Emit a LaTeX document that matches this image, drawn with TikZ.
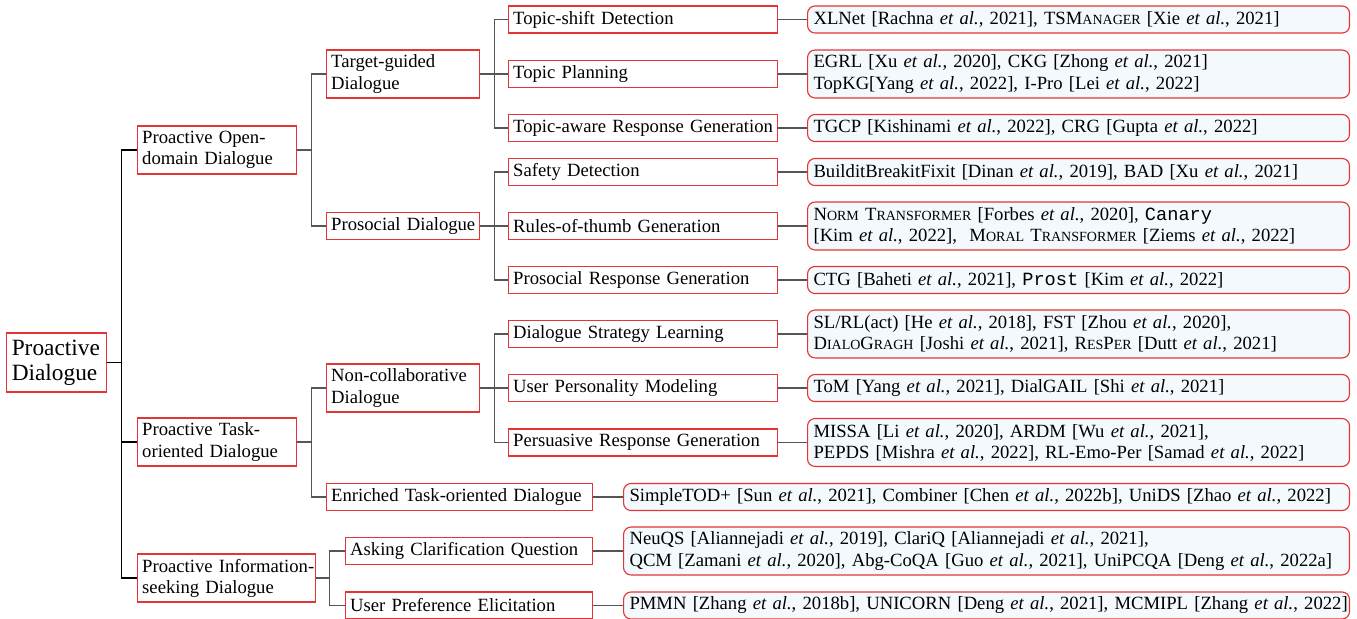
\documentclass[tikz,border=0pt]{standalone}
\usepackage{fontspec}
\setmainfont{Liberation Serif}
\setmonofont{Liberation Mono}

\definecolor{boxrot}{RGB}{228,52,52}
\definecolor{blattblau}{RGB}{243,249,253}
\definecolor{kantengrau}{RGB}{85,85,85}

\newcommand{\etal}{\textit{et al.}}
\newcommand{\kap}[1]{{\fontsize{7.5pt}{9pt}\selectfont\MakeUppercase{#1}}}

\tikzset{
	kat/.style={draw=boxrot, line width=0.6pt, anchor=west, align=left,
		inner xsep=2.5pt, inner ysep=1pt, minimum height=14.5pt,
		font=\fontsize{10}{11.3}\selectfont, text width=#1,
		execute at begin node={\rightskip=0pt plus 1fil minus 40pt\relax}},
	zwei/.style={minimum height=25.7pt},
	blatt/.style={kat=#1, fill=blattblau, rounded corners=4pt, inner xsep=3.2pt},
	kante/.style={draw=kantengrau, line width=0.6pt},
}

\begin{document}
\begin{tikzpicture}[x=0.536pt,y=-0.536pt]
		\useasboundingbox (0,0) rectangle (1357,618);
		
		% Wurzel
		\node[kat=48pt, inner xsep=2.8pt, minimum height=31.6pt,
			font=\fontsize{12.5}{13.4}\selectfont] (wurzel) at (6,362.5) {Proactive\\Dialogue};
		
		% Ebene 1
		\node[kat=80.2pt, zwei] (offen) at (137,150) {Proactive Open-\\domain Dialogue};
		\node[kat=80.2pt, zwei] (aufgabe) at (137,442) {Proactive Task-\\oriented Dialogue};
		\node[kat=90.4pt, zwei] (info) at (137,578) {Proactive Information-\\seeking Dialogue};
		
		% Ebene 2
		\node[kat=77pt, zwei] (ziel) at (326,74) {Target-guided\\Dialogue};
		\node[kat=77pt] (prosozial) at (326,226) {Prosocial Dialogue};
		\node[kat=77pt, zwei] (nichtkoop) at (326,388) {Non-collaborative\\Dialogue};
		\node[kat=137.6pt] (angereichert) at (326,497) {Enriched Task-oriented Dialogue};
		\node[kat=127.4pt] (rueckfrage) at (345,551) {Asking Clarification Question};
		\node[kat=127.4pt] (praeferenz) at (345,605.5) {User Preference Elicitation};
		
		% Ebene 3
		\node[kat=139.2pt] (wechsel) at (508,19.5) {Topic-shift Detection};
		\node[kat=139.2pt] (planung) at (508,74) {Topic Planning};
		\node[kat=139.2pt] (themenantw) at (508,128) {Topic-aware Response Generation};
		\node[kat=139.2pt] (sicherheit) at (508,172) {Safety Detection};
		\node[kat=139.2pt] (regeln) at (508,226) {Rules-of-thumb Generation};
		\node[kat=139.2pt] (prosantw) at (508,280) {Prosocial Response Generation};
		\node[kat=139.2pt] (strategie) at (508,334) {Dialogue Strategy Learning};
		\node[kat=139.2pt] (persoenlich) at (508,388) {User Personality Modeling};
		\node[kat=139.2pt] (ueberzeug) at (508,442.5) {Persuasive Response Generation};
		
		% Blaetter (Arbeiten)
		\node[blatt=284.1pt] (b-wechsel) at (807,19.5)
			{XLNet [Rachna \etal, 2021], TSM\kap{anager} [Xie \etal, 2021]};
		\node[blatt=284.1pt, zwei] (b-planung) at (807,74)
			{EGRL [Xu \etal, 2020], CKG [Zhong \etal, 2021]\\TopKG[Yang \etal, 2022], I-Pro [Lei \etal, 2022]};
		\node[blatt=284.1pt] (b-themenantw) at (807,128)
			{TGCP [Kishinami \etal, 2022], CRG [Gupta \etal, 2022]};
		\node[blatt=284.1pt] (b-sicherheit) at (807,172)
			{BuilditBreakitFixit [Dinan \etal, 2019], BAD [Xu \etal, 2021]};
		\node[blatt=284.1pt, zwei] (b-regeln) at (807,226)
			{N\kap{orm} T\kap{ransformer} [Forbes \etal, 2020], \texttt{Canary}\\\relax
			[Kim \etal, 2022], \ M\kap{oral} T\kap{ransformer} [Ziems \etal, 2022]};
		\node[blatt=284.1pt] (b-prosantw) at (807,280)
			{CTG [Baheti \etal, 2021], \texttt{Prost} [Kim \etal, 2022]};
		\node[blatt=284.1pt, zwei] (b-strategie) at (807,334)
			{SL/RL(act) [He \etal, 2018], FST [Zhou \etal, 2020],\\
			D\kap{ialo}G\kap{ragh} [Joshi \etal, 2021], R\kap{es}P\kap{er} [Dutt \etal, 2021]};
		\node[blatt=284.1pt] (b-persoenlich) at (807,388)
			{ToM [Yang \etal, 2021], DialGAIL [Shi \etal, 2021]};
		\node[blatt=284.1pt, zwei] (b-ueberzeug) at (807,442.5)
			{MISSA [Li \etal, 2020], ARDM [Wu \etal, 2021],\\
			PEPDS [Mishra \etal, 2022], RL-Emo-Per [Samad \etal, 2022]};
		\node[blatt=382.7pt] (b-angereichert) at (623,497)
			{SimpleTOD+ [Sun \etal, 2021], Combiner [Chen \etal, 2022b], UniDS [Zhao \etal, 2022]};
		\node[blatt=382.7pt, zwei] (b-rueckfrage) at (623,551)
			{NeuQS [Aliannejadi \etal, 2019], ClariQ [Aliannejadi \etal, 2021],\\
			QCM [Zamani \etal, 2020], Abg-CoQA [Guo \etal, 2021], UniPCQA [Deng \etal, 2022a]};
		\node[blatt=382.7pt] (b-praeferenz) at (623,605.5)
			{PMMN [Zhang \etal, 2018b], UNICORN [Deng \etal, 2021], MCMIPL [Zhang \etal, 2022]};
		
		% Kanten zur Wurzel
		\foreach \k in {offen,aufgabe,info}
			\draw[kante, draw=black] (wurzel.east) -- ++(14,0) |- (\k.west);
		
		% Kanten zwischen den Ebenen
		\foreach \v/\k in {offen/ziel, offen/prosozial, aufgabe/nichtkoop, aufgabe/angereichert,
			ziel/wechsel, ziel/planung, ziel/themenantw,
			prosozial/sicherheit, prosozial/regeln, prosozial/prosantw,
			nichtkoop/strategie, nichtkoop/persoenlich, nichtkoop/ueberzeug}
			\draw[kante] (\v.east) -- ++(14,0) |- (\k.west);
		\foreach \k in {rueckfrage,praeferenz}
			\draw[kante] (info.east) -- ++(13,0) |- (\k.west);
		
		% Kanten zu den Blaettern
		\foreach \k in {wechsel,planung,themenantw,sicherheit,regeln,prosantw,
			strategie,persoenlich,ueberzeug,angereichert,rueckfrage,praeferenz}
			\draw[kante] (\k.east) -- (b-\k.west);
		
	\end{tikzpicture}
\end{document}
